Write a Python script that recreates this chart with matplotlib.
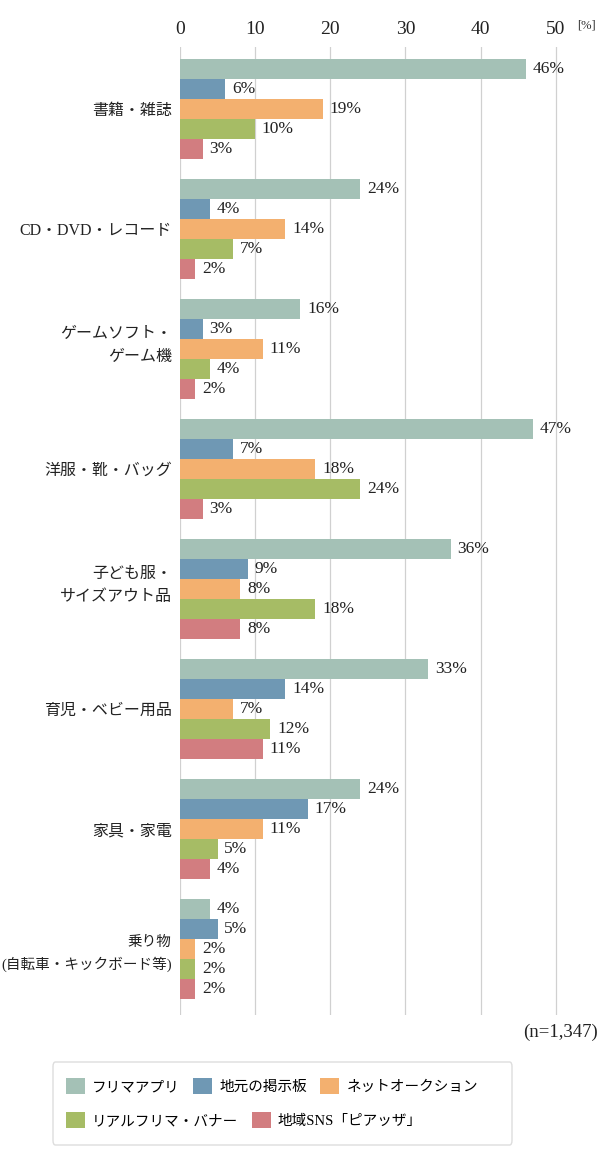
import matplotlib.pyplot as plt
import matplotlib.patches as patches
import matplotlib.transforms as mtransforms
import numpy as np

plt.rcParams['font.family'] = ['Liberation Serif', 'Noto Sans CJK JP']

categories = ['書籍・雑誌', 'CD・DVD・レコード', 'ゲームソフト・\nゲーム機', '洋服・靴・バッグ',
              '子ども服・\nサイズアウト品', '育児・ベビー用品', '家具・家電', '乗り物\n(自転車・キックボード等)']
series = ['フリマアプリ', '地元の掲示板', 'ネットオークション', 'リアルフリマ・バナー', '地域SNS「ピアッザ」']
colors = ['#a4c1b6', '#6f98b4', '#f3b06f', '#a6bc65', '#d27d80']

furima_app = [46, 24, 16, 47, 36, 33, 24, 4]
jimoto = [6, 4, 3, 7, 9, 14, 17, 5]
net_auction = [19, 14, 11, 18, 8, 7, 11, 2]
real_furima = [10, 7, 4, 24, 18, 12, 5, 2]
piazza = [3, 2, 2, 3, 8, 11, 4, 2]
values = [furima_app, jimoto, net_auction, real_furima, piazza]

fig = plt.figure(figsize=(6, 11.66), dpi=100)
ax = fig.add_axes([0.3, 0.1295, 0.689, 0.830])

group_step = 6
handles = []
for j, (name, vals, col) in enumerate(zip(series, values, colors)):
    y = np.arange(len(categories)) * group_step + j
    b = ax.barh(y, vals, height=1.0, color=col, label=name, zorder=2)
    handles.append(b)
    for yy, v in zip(y, vals):
        ax.text(v + 0.9, yy, f'{v}%', va='center', ha='left', fontsize=12.5, color='#222222')

ax.set_ylim(len(categories) * group_step - 2 + 1.3, -1.1)
ax.set_xlim(0, 55)
ax.set_xticks([0, 10, 20, 30, 40, 50])
ax.xaxis.tick_top()
ax.tick_params(axis='x', length=0, labelsize=14, pad=7, colors='#222222')
ax.grid(axis='x', color='#d0d0d0', linewidth=0.9, zorder=0)
ax.set_yticks(np.arange(len(categories)) * group_step + 2)
ax.set_yticklabels(categories, fontsize=11.5, color='#222222', linespacing=1.6)
ax.tick_params(axis='y', length=0, pad=6)
for s in ax.spines.values():
    s.set_visible(False)

# long label is squeezed a bit, two of the wrapped labels sit slightly higher
for lbl in ax.get_yticklabels():
    if lbl.get_text().startswith('乗り物'):
        lbl.set_fontsize(10.5)
    if lbl.get_text().startswith(('ゲーム', '子ども')):
        lbl.set_transform(lbl.get_transform() +
                          mtransforms.ScaledTranslation(0, 9 / 100, fig.dpi_scale_trans))

fig.text(0.977, 1 - 25 / 1166, '[%]', fontsize=9, ha='center', va='center', color='#333333')
fig.text(0.997, 1 - 1032 / 1166, '(n=1,347)', fontsize=13.5, ha='right', va='center', color='#222222')

# legend box
box = patches.FancyBboxPatch((53 / 600, 1 - 1145 / 1166), 459 / 600, 83 / 1166,
                             boxstyle='round,pad=0,rounding_size=0.004',
                             transform=fig.transFigure, facecolor='white',
                             edgecolor='#dddddd', linewidth=1)
fig.patches.append(box)

leg_kw = dict(frameon=False, fontsize=10.5, handlelength=1.3, handleheight=1.3,
              handletextpad=0.5, columnspacing=0.9, borderpad=0, borderaxespad=0)
leg1 = fig.legend(handles[:3], series[:3], ncol=3, loc='center left',
                  bbox_to_anchor=(66 / 600, 1 - 1086 / 1166), **leg_kw)
leg2 = fig.legend(handles[3:], series[3:], ncol=2, loc='center left',
                  bbox_to_anchor=(66 / 600, 1 - 1120 / 1166), **leg_kw)

fig.savefig('out.png', dpi=100)
